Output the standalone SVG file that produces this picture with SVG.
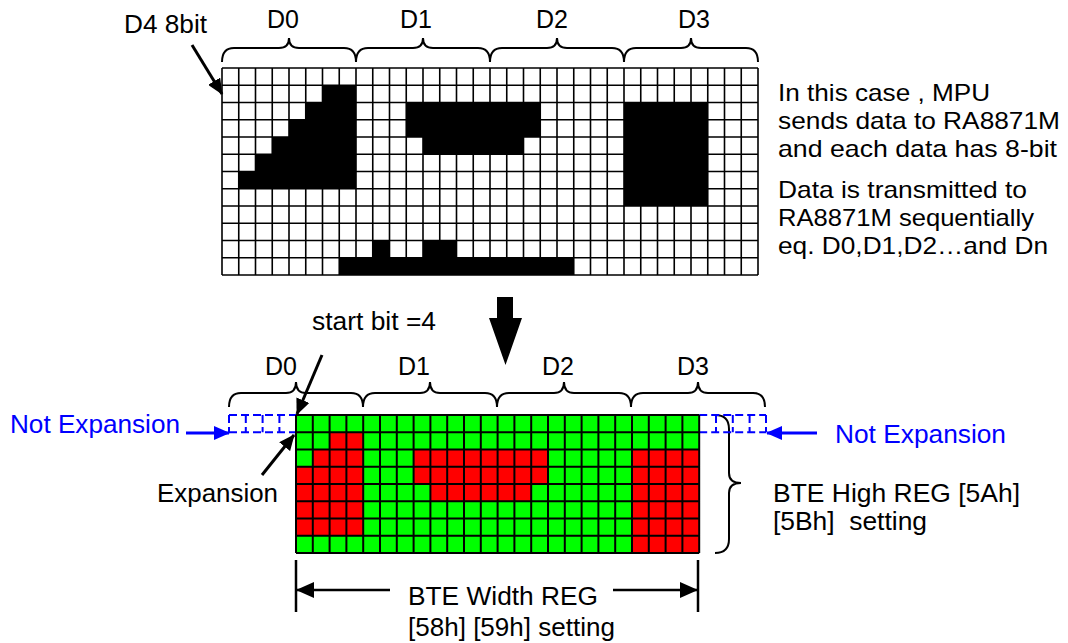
<svg xmlns="http://www.w3.org/2000/svg" width="1068" height="643" viewBox="0 0 1068 643">
<style>
text{font-family:"Liberation Sans",Arial,Helvetica,sans-serif;fill:#000;}
.t25{font-size:25px;}
.t24{font-size:24px;}
.blue{fill:#0000FF;}
.brace{fill:none;stroke:#000;stroke-width:2;}
.gridT{fill:none;stroke:#000;stroke-width:1.6;}
.gridB{fill:none;stroke:#000;stroke-width:2;}
.blk{fill:#000;}
.red{fill:#FF0000;}
.dash{fill:none;stroke:#0000FF;stroke-width:2;stroke-dasharray:8 4;}
.arr{stroke:#000;stroke-width:3;fill:none;}
.arrB{stroke:#0000FF;stroke-width:3;fill:none;}
.dim{stroke:#000;stroke-width:2.5;fill:none;}
</style>
<defs>
<marker id="ah" viewBox="0 0 16 14" refX="15" refY="7" markerWidth="16" markerHeight="14" markerUnits="userSpaceOnUse" orient="auto"><path d="M0,0 L16,7 L0,14 z" fill="#000"/></marker>
<marker id="ahB" viewBox="0 0 16 14" refX="15" refY="7" markerWidth="16" markerHeight="16" markerUnits="userSpaceOnUse" orient="auto"><path d="M0,0 L16,7 L0,14 z" fill="#0000FF"/></marker>
<marker id="ahD" viewBox="0 0 18 16" refX="17" refY="8" markerWidth="18" markerHeight="16" markerUnits="userSpaceOnUse" orient="auto"><path d="M0,0 L18,8 L0,16 z" fill="#000"/></marker>
</defs>
<rect width="1068" height="643" fill="#fff"/>

<g id="top-labels">
<text class="t25" x="124" y="33" textLength="83" lengthAdjust="spacingAndGlyphs">D4 8bit</text>
<text class="t25" x="267" y="28">D0</text>
<text class="t25" x="400" y="28">D1</text>
<text class="t25" x="536" y="28">D2</text>
<text class="t25" x="678" y="28">D3</text>
</g>

<g id="top-braces">
<path class="brace" d="M222,62 Q222,48 234,48 H279 Q289,48 289,38 Q289,48 299,48 H344 Q356,48 356,62"/>
<path class="brace" d="M356,62 Q356,48 368,48 H413 Q423,48 423,38 Q423,48 433,48 H478 Q490,48 490,62"/>
<path class="brace" d="M490,62 Q490,48 502,48 H547 Q557,48 557,38 Q557,48 567,48 H612 Q624,48 624,62"/>
<path class="brace" d="M624,62 Q624,48 636,48 H681 Q691,48 691,38 Q691,48 701,48 H746 Q758,48 758,62"/>
</g>

<g id="top-grid">
<rect x="222" y="68" width="536" height="207" fill="#fff"/>
<rect class="blk" x="322.5" y="85.25" width="33.5" height="17.25"/>
<rect class="blk" x="305.75" y="102.5" width="50.25" height="17.25"/>
<rect class="blk" x="289" y="119.75" width="67" height="17.25"/>
<rect class="blk" x="272.25" y="137" width="83.75" height="17.25"/>
<rect class="blk" x="255.5" y="154.25" width="100.5" height="17.25"/>
<rect class="blk" x="238.75" y="171.5" width="117.25" height="17.25"/>
<rect class="blk" x="406.25" y="102.5" width="134" height="34.5"/>
<rect class="blk" x="423" y="137" width="100.5" height="17.25"/>
<rect class="blk" x="624" y="102.5" width="83.75" height="103.5"/>
<rect class="blk" x="372.75" y="240.5" width="16.75" height="17.25"/>
<rect class="blk" x="423" y="240.5" width="33.5" height="17.25"/>
<rect class="blk" x="339.25" y="257.75" width="234.5" height="17.25"/>
<path class="gridT" d="M222,68V275M238.75,68V275M255.5,68V275M272.25,68V275M289,68V275M305.75,68V275M322.5,68V275M339.25,68V275M356,68V275M372.75,68V275M389.5,68V275M406.25,68V275M423,68V275M439.75,68V275M456.5,68V275M473.25,68V275M490,68V275M506.75,68V275M523.5,68V275M540.25,68V275M557,68V275M573.75,68V275M590.5,68V275M607.25,68V275M624,68V275M640.75,68V275M657.5,68V275M674.25,68V275M691,68V275M707.75,68V275M724.5,68V275M741.25,68V275M758,68V275M222,68H758M222,85.25H758M222,102.5H758M222,119.75H758M222,137H758M222,154.25H758M222,171.5H758M222,188.75H758M222,206H758M222,223.25H758M222,240.5H758M222,257.75H758M222,275H758"/>
</g>

<g id="description">
<text class="t24" x="778" y="100.5" textLength="212" lengthAdjust="spacingAndGlyphs">In this case , MPU</text>
<text class="t24" x="778" y="129" textLength="282" lengthAdjust="spacingAndGlyphs">sends data to RA8871M</text>
<text class="t24" x="778" y="157" textLength="279" lengthAdjust="spacingAndGlyphs">and each data has 8-bit</text>
<text class="t24" x="778" y="198" textLength="249" lengthAdjust="spacingAndGlyphs">Data is transmitted to</text>
<text class="t24" x="778" y="226" textLength="256" lengthAdjust="spacingAndGlyphs">RA8871M sequentially</text>
<text class="t24" x="778" y="254" textLength="270" lengthAdjust="spacingAndGlyphs">eq. D0,D1,D2…and Dn</text>
</g>

<g id="big-arrow">
<polygon points="497,297 513,297 513,318 522,318 505.5,365 489,318 497,318" fill="#000"/>
</g>

<g id="bottom-labels">
<text class="t25" x="312" y="330" textLength="124" lengthAdjust="spacingAndGlyphs">start bit =4</text>
<text class="t25" x="265" y="375">D0</text>
<text class="t25" x="398" y="375">D1</text>
<text class="t25" x="542" y="375">D2</text>
<text class="t25" x="677" y="375">D3</text>
</g>

<g id="bottom-braces">
<path class="brace" d="M229,407 Q229,393 241,393 H286 Q296,393 296,382 Q296,393 306,393 H351 Q363,393 363,407"/>
<path class="brace" d="M363,407 Q363,393 375,393 H420 Q430,393 430,382 Q430,393 440,393 H485 Q497,393 497,407"/>
<path class="brace" d="M497,407 Q497,393 509,393 H554 Q564,393 564,382 Q564,393 574,393 H619 Q631,393 631,407"/>
<path class="brace" d="M631,407 Q631,393 643,393 H688 Q698,393 698,382 Q698,393 708,393 H753 Q765,393 765,407"/>
<path class="brace" d="M715,415 Q729,415 729,429 V473 Q729,483 741,483 Q729,483 729,493 V539 Q729,553 715,553"/>
</g>

<g id="not-expansion-left">
<path class="dash" d="M229,415H296M229,432.25H296M229,415V432.25M245.8,415V432.25M262.6,415V432.25M279.4,415V432.25"/>
<text class="t25 blue" x="10" y="433" textLength="170" lengthAdjust="spacingAndGlyphs">Not Expansion</text>
</g>

<g id="not-expansion-right">
<path class="dash" d="M699.2,415H766M699.2,432.25H766M766,415V432.25M716,415V432.25M732.8,415V432.25M749.6,415V432.25"/>
<text class="t25 blue" x="835" y="443" textLength="171" lengthAdjust="spacingAndGlyphs">Not Expansion</text>
</g>

<g id="bottom-grid">
<rect x="296" y="415" width="403.2" height="138" fill="#00FF00"/>
<rect class="red" x="329.6" y="432.25" width="33.6" height="17.25"/>
<rect class="red" x="312.8" y="449.5" width="50.4" height="17.25"/>
<rect class="red" x="296" y="466.75" width="67.2" height="69"/>
<rect class="red" x="413.6" y="449.5" width="134.4" height="34.5"/>
<rect class="red" x="430.4" y="484" width="100.8" height="17.25"/>
<rect class="red" x="632" y="449.5" width="67.2" height="103.5"/>
<path class="gridB" d="M296,415V553M312.8,415V553M329.6,415V553M346.4,415V553M363.2,415V553M380,415V553M396.8,415V553M413.6,415V553M430.4,415V553M447.2,415V553M464,415V553M480.8,415V553M497.6,415V553M514.4,415V553M531.2,415V553M548,415V553M564.8,415V553M581.6,415V553M598.4,415V553M615.2,415V553M632,415V553M648.8,415V553M665.6,415V553M682.4,415V553M699.2,415V553M296,415H699.2M296,432.25H699.2M296,449.5H699.2M296,466.75H699.2M296,484H699.2M296,501.25H699.2M296,518.5H699.2M296,535.75H699.2M296,553H699.2"/>
</g>

<g id="expansion-label">
<text class="t25" x="157" y="502" textLength="121" lengthAdjust="spacingAndGlyphs">Expansion</text>
</g>

<g id="height-label">
<text class="t25" x="773" y="502" textLength="247" lengthAdjust="spacingAndGlyphs">BTE High REG [5Ah]</text>
<text class="t25" x="773" y="530" textLength="154" lengthAdjust="spacingAndGlyphs" style="white-space:pre">[5Bh]  setting</text>
</g>

<g id="width-label">
<text class="t25" x="408" y="605" textLength="190" lengthAdjust="spacingAndGlyphs">BTE Width REG</text>
<text class="t25" x="408" y="636" textLength="207" lengthAdjust="spacingAndGlyphs">[58h] [59h] setting</text>
</g>

<g id="connectors">
<line class="arr" x1="192" y1="45" x2="222" y2="94" marker-end="url(#ah)"/>
<line class="arr" x1="322" y1="355" x2="297" y2="414" marker-end="url(#ah)"/>
<line class="arr" x1="262" y1="475" x2="294" y2="435" marker-end="url(#ah)"/>
<line class="arrB" x1="186" y1="433" x2="229" y2="433" marker-end="url(#ahB)"/>
<line class="arrB" x1="817" y1="433" x2="767" y2="433" marker-end="url(#ahB)"/>
<line class="dim" x1="296" y1="560" x2="296" y2="612"/>
<line class="dim" x1="698" y1="560" x2="698" y2="612"/>
<line class="dim" x1="390" y1="590" x2="297" y2="590" marker-end="url(#ahD)"/>
<line class="dim" x1="613" y1="590" x2="697" y2="590" marker-end="url(#ahD)"/>
</g>
</svg>
